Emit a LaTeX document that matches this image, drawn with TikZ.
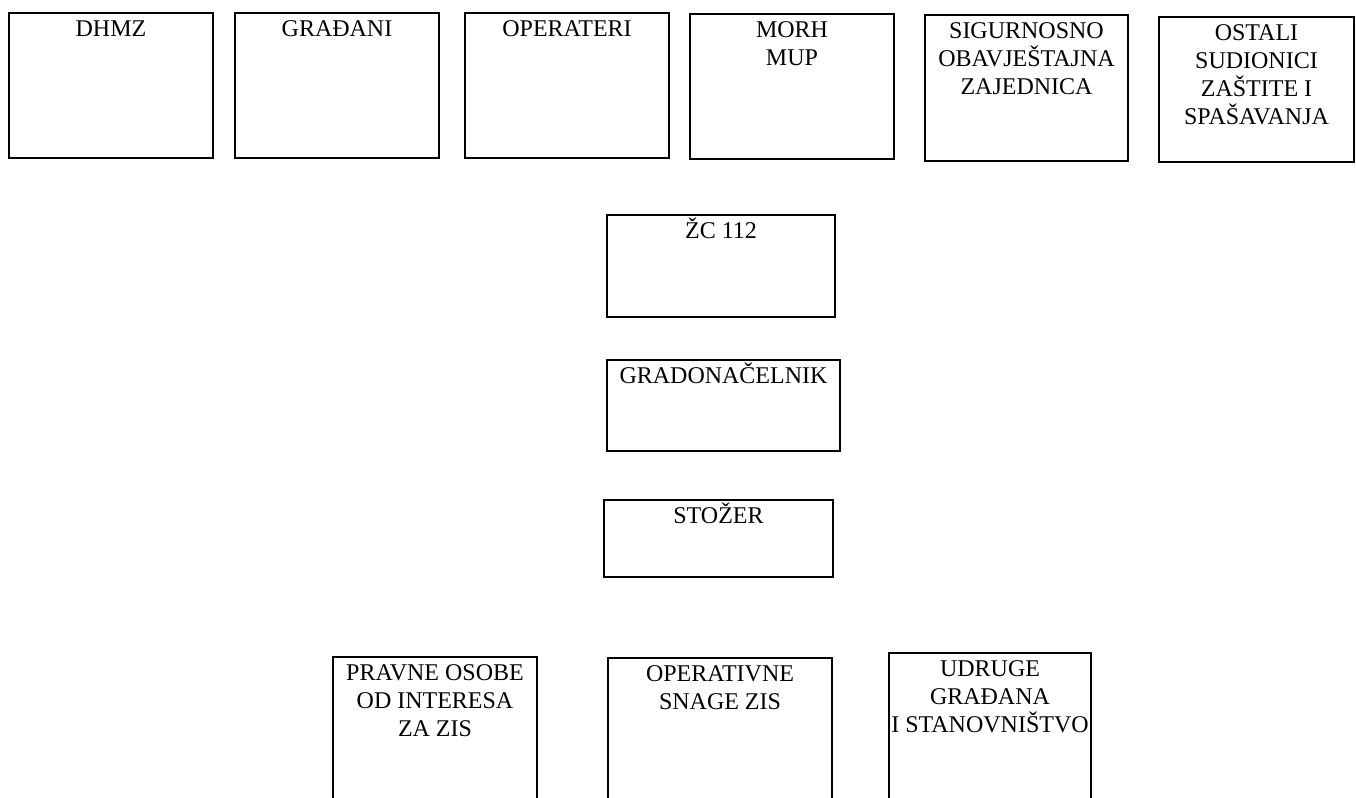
\documentclass[tikz,border=0pt]{standalone}
\usepackage{fontspec}
\setmainfont{Liberation Serif}
\usetikzlibrary{fit}
\newcommand{\orgbox}[6]{%
  \path (#2,#3) coordinate (#1-a) (#4,#5) coordinate (#1-b);
  \node[orgframe, fit=(#1-a)(#1-b)] (#1) {};
  \node[orglabel] (#1-t) at (#1.north) {\rule{0pt}{12pt}#6};
}
\begin{document}
\begin{tikzpicture}[x=0.5pt,y=-0.5pt,
  orgframe/.style={draw=black, line width=1pt, inner sep=0pt},
  orglabel/.style={anchor=north, inner sep=0pt, align=center, text=black,
    font=\fontsize{12}{14}\selectfont}]
\useasboundingbox (0,0) rectangle (1356,798);
\fill[white] (0,0) rectangle (1356,798);
\clip (0,0) rectangle (1356,798);
% top row
\orgbox{dhmz}{9}{13}{213}{158}{DHMZ}
\orgbox{gradjani}{235}{13}{439}{158}{GRAĐANI}
\orgbox{operateri}{465}{13}{669}{158}{OPERATERI}
\orgbox{morh}{690}{14}{894}{159}{MORH\\MUP}
\orgbox{soa}{925}{15}{1128}{161}{SIGURNOSNO\\OBAVJEŠTAJNA\\ZAJEDNICA}
\orgbox{ostali}{1159}{17}{1354}{162}{OSTALI\\SUDIONICI\\ZAŠTITE I\\SPAŠAVANJA}
% middle column
\orgbox{zc}{607}{215}{835}{317}{ŽC 112}
\orgbox{gradonacelnik}{607}{360}{840}{451}{GRADONAČELNIK}
\orgbox{stozer}{604}{500}{833}{577}{STOŽER}
% bottom row
\orgbox{pravne}{333}{657}{537}{812}{PRAVNE OSOBE\\OD INTERESA\\ZA ZIS}
\orgbox{operativne}{608}{658}{832}{812}{OPERATIVNE\\SNAGE ZIS}
\orgbox{udruge}{889}{653}{1091}{812}{UDRUGE\\GRAĐANA\\I STANOVNIŠTVO}
\end{tikzpicture}
\end{document}
